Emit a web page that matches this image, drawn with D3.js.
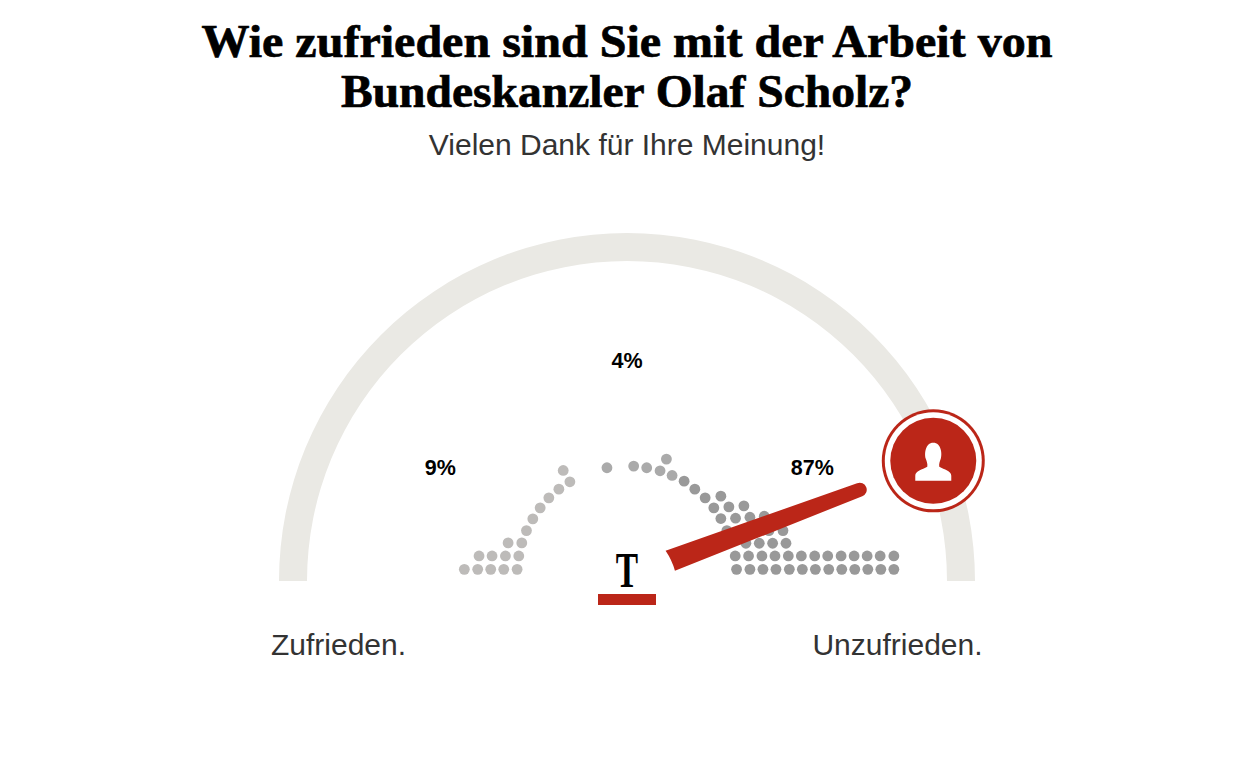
<!DOCTYPE html>
<html lang="de">
<head>
<meta charset="utf-8">
<title>Wie zufrieden sind Sie mit der Arbeit von Bundeskanzler Olaf Scholz?</title>
<script src="https://cdn.jsdelivr.net/npm/d3@7"></script>
<style>
  html, body { margin: 0; padding: 0; background: #fff; }
  svg { display: block; }
  .title { font-family: "Liberation Serif", serif; font-weight: bold; font-size: 46px; fill: #000; stroke: #000; stroke-width: 0.7px; text-anchor: middle; }
  .subtitle { font-family: "Liberation Sans", sans-serif; font-size: 30px; fill: #333; text-anchor: middle; }
  .end-label { font-family: "Liberation Sans", sans-serif; font-size: 30px; fill: #333; text-anchor: middle; }
  .share { font-family: "Liberation Sans", sans-serif; font-weight: bold; font-size: 21.5px; fill: #000; text-anchor: middle; }
  .logo { font-family: "Liberation Serif", serif; font-weight: bold; font-size: 50px; fill: #000; text-anchor: middle; }
</style>
</head>
<body>
<svg id="chart" width="1244" height="766"></svg>
<script>
"use strict";

const titleLines = ["Wie zufrieden sind Sie mit der Arbeit von", "Bundeskanzler Olaf Scholz?"];
const subtitle = "Vielen Dank für Ihre Meinung!";
const endLabels = ["Zufrieden.", "Unzufrieden."];

// score runs from -100 (satisfied) to 100 (unsatisfied), lift is the height above the baseline
const shareLabels = ["9%", "4%", "87%"];
const shareScores = [-55.9, 0, 55.5];
const shareLifts = [31.6, 63.9, 31.6];
const answerScore = 76.2;

const lightScores = [-48.7, -44.7, -40.8, -36.9, -32.9, -44.3, -40.4, -36.4, -32.4, -35.6, -31.5, -30.1, -28.2, -26.0, -23.4, -20.4, -17.1, -19.1];
const lightLifts = [3.5, 3.5, 3.5, 3.5, 3.5, 7.5, 7.5, 7.5, 7.5, 11.4, 11.4, 15.1, 18.6, 21.9, 24.9, 27.5, 29.7, 33.1];

const middleScores = [-6.0, 2.0, 5.9, 9.9, 11.8, 13.5];
const middleLifts = [33.9, 34.4, 33.9, 33.0, 36.5, 31.6];

const darkScores = [
  17.1, 20.3, 23.4, 28.1, 26.0, 30.5, 35.0, 28.1, 32.5, 36.8, 41.1,
  29.9, 34.1, 38.3, 42.5, 46.7, 35.6, 39.6, 43.6, 47.6,
  32.4, 36.4, 40.4, 44.3, 48.3, 52.2, 56.2, 60.1, 64.1, 68.0, 71.9, 75.8, 79.9,
  32.8, 36.8, 40.7, 44.6, 48.6, 52.5, 56.4, 60.4, 64.3, 68.2, 72.1, 76.0, 79.9
];
const darkLifts = [
  29.9, 27.5, 24.9, 25.4, 21.9, 22.2, 22.5, 18.7, 18.8, 19.1, 19.4,
  15.1, 15.1, 15.1, 15.1, 15.1, 11.3, 11.3, 11.3, 11.3,
  7.5, 7.5, 7.5, 7.5, 7.5, 7.5, 7.5, 7.5, 7.5, 7.5, 7.5, 7.5, 7.5,
  3.5, 3.5, 3.5, 3.5, 3.5, 3.5, 3.5, 3.5, 3.5, 3.5, 3.5, 3.5, 3.5
];

const red = "#bb2618";
const cx = 627;
const cy = 581;
const outerRadius = 348;
const innerRadius = 320;
const midRadius = (outerRadius + innerRadius) / 2;

const svg = d3.select("#chart");

const xScale = d3.scaleLinear().domain([-100, 100]).range([cx - midRadius, cx + midRadius]);
const liftScale = d3.scaleLinear().domain([0, 100]).range([cy, cy - midRadius]);
const angleScale = d3.scaleLinear().domain([-100, 100]).range([-Math.PI / 2, Math.PI / 2]);

// point on a circle round the gauge centre, angle 0 is straight up
const polar = (angle, radius) => [cx + radius * Math.sin(angle), cy - radius * Math.cos(angle)];

svg.selectAll("text.title")
  .data(titleLines)
  .join("text")
  .attr("class", "title")
  .attr("x", cx)
  .attr("y", (d, i) => 57 + i * 50)
  .attr("textLength", (d, i) => i === 0 ? 851 : 572)
  .attr("lengthAdjust", "spacingAndGlyphs")
  .text(d => d);

svg.append("text")
  .attr("class", "subtitle")
  .attr("x", cx)
  .attr("y", 155)
  .text(subtitle);

svg.append("path")
  .attr("transform", `translate(${cx}, ${cy})`)
  .attr("fill", "#eae9e4")
  .attr("d", d3.arc()({
    innerRadius: innerRadius,
    outerRadius: outerRadius,
    startAngle: angleScale(-100),
    endAngle: angleScale(100)
  }));

function renderDots(scores, lifts, color) {
  svg.append("g")
    .attr("fill", color)
    .selectAll("circle")
    .data(scores)
    .join("circle")
    .attr("cx", d => xScale(d))
    .attr("cy", (d, i) => liftScale(lifts[i]))
    .attr("r", 5.4);
}

renderDots(lightScores, lightLifts, "#bdbbb9");
renderDots(middleScores, middleLifts, "#aaaaaa");
renderDots(darkScores, darkLifts, "#999999");

svg.selectAll("text.share")
  .data(shareLabels)
  .join("text")
  .attr("class", "share")
  .attr("x", (d, i) => xScale(shareScores[i]))
  .attr("y", (d, i) => liftScale(shareLifts[i]))
  .text(d => d);

// logo
svg.append("text")
  .attr("class", "logo")
  .attr("transform", `translate(${cx}, 587) scale(0.67, 1)`)
  .text("T");

svg.append("rect")
  .attr("x", cx - 29)
  .attr("y", 594)
  .attr("width", 58)
  .attr("height", 11)
  .attr("fill", red);

// needle: tapered, slightly hollow end, round tip
const answerAngle = angleScale(answerScore);
const baseRadius = 49;
const tipRadius = 250;
const upperSpread = 0.29;
const lowerSpread = 0.165;
const tipSpread = 7 / tipRadius;

const needle = d3.path();
needle.moveTo(...polar(answerAngle - upperSpread, baseRadius));
needle.lineTo(...polar(answerAngle - tipSpread, tipRadius));
needle.arc(...polar(answerAngle, tipRadius), 7, answerAngle - Math.PI, answerAngle);
needle.lineTo(...polar(answerAngle + lowerSpread, baseRadius));
needle.quadraticCurveTo(...polar(answerAngle - 0.06, baseRadius + 0.6), ...polar(answerAngle - upperSpread, baseRadius));
needle.closePath();

svg.append("path")
  .attr("d", needle.toString())
  .attr("fill", red);

// knob
const [knobX, knobY] = polar(answerAngle, 329);
const knob = svg.append("g")
  .attr("transform", `translate(${knobX}, ${knobY})`);

knob.append("circle").attr("r", 51.5).attr("fill", red);
knob.append("circle").attr("r", 48.5).attr("fill", "#fff");
knob.append("circle").attr("r", 43).attr("fill", red);
knob.append("path")
  .attr("fill", "#fff")
  .attr("d", "M-18,20 L-18,15 C-18,10 -11,9 -6,6 C-5.5,3 -6.5,1 -7.5,-2 C-9,-7 -8,-18 0,-18 C8,-18 9,-7 7.5,-2 C6.5,1 5.5,3 6,6 C11,9 18,10 18,15 L18,20 Z");

svg.selectAll("text.end-label")
  .data(endLabels)
  .join("text")
  .attr("class", "end-label")
  .attr("x", (d, i) => i === 0 ? 338.5 : 897.5)
  .attr("y", 655)
  .text(d => d);
</script>
</body>
</html>
